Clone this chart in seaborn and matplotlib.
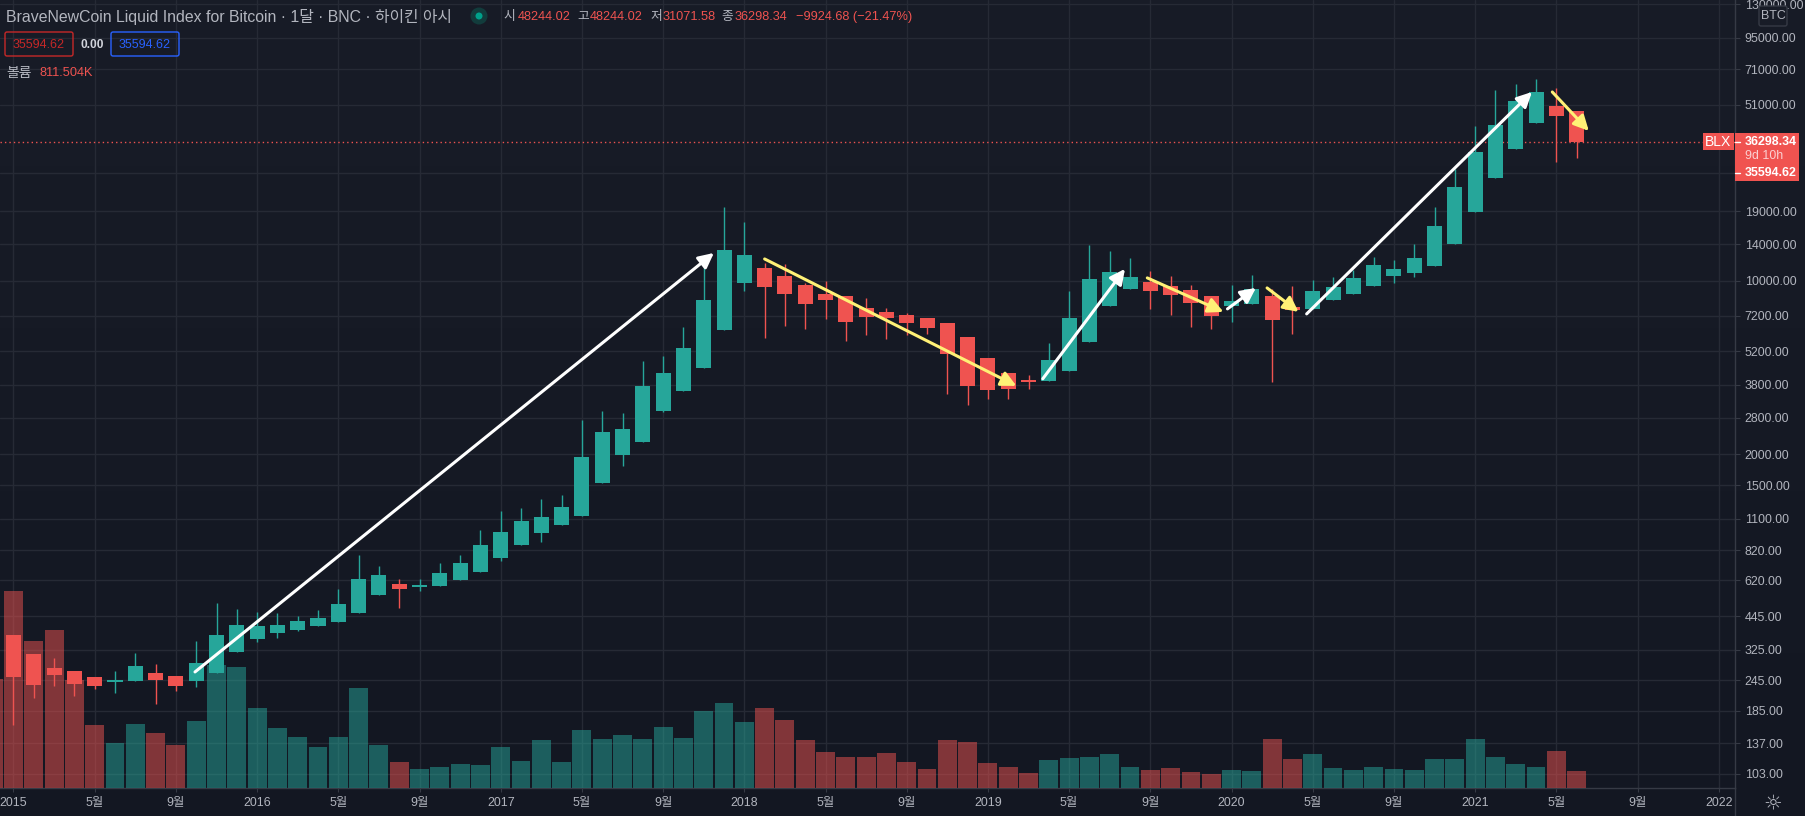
import numpy as np
import pandas as pd
import seaborn as sns
import matplotlib
matplotlib.use("Agg")
import matplotlib.pyplot as plt
from matplotlib.patches import Rectangle, FancyBboxPatch, Circle
from matplotlib.colors import LinearSegmentedColormap

# ---------- data (monthly, index 0 = Jan 2015) ----------
body_tops = [373,313,275,267,253,246,280,263,255,288,
             373,410,406,410,425,437,498,628,652,599,
             594,664,728,861,972,1076,1117,1226,1949,2454,
             2525,3764,4250,5357,8360,13290,12690,11240,10440,9600,
             8835,8673,7760,7480,7275,7075,6750,5931,4883,4250,
             3980,4790,7075,10150,10840,10340,9870,9515,9170,8673,
             8280,9250,8673,7835,9085,9426,10250,11560,11140,12340,
             16610,23840,32980,42400,52900,57500,50500,48244.02]
body_bottoms = [253,235,258,237,233,241,244,246,233,244,
                263,319,360,380,391,406,421,458,541,572,
                583,588,622,670,763,861,963,1037,1127,1531,
                1986,2238,2982,3596,4447,6330,9780,9426,8835,8055,
                8360,6812,7140,7075,6750,6450,5070,3764,3630,3660,
                3906,3943,4330,5664,7905,9250,9085,8750,8130,7210,
                7905,8055,6940,7620,7690,8360,8835,9515,10440,10730,
                11450,14050,18900,25920,33910,43180,46060,36298.34]
highs = [373,313,302,267,253,267,316,285,255,354,
         503,476,462,458,445,471,572,785,708,628,
         628,728,785,990,1181,1214,1320,1370,2745,2982,
         2927,4745,4975,6503,11450,19800,17240,11770,11670,9780,
         9970,8673,8514,7760,7410,7075,6750,5931,4883,4250,
         4172,5612,9085,13870,13170,12340,10940,10440,9600,8673,
         9600,10540,9250,9515,10060,10340,11040,12450,12110,14050,
         19800,28170,41990,58600,61950,64900,59700,48244.02]
lows = [162,208,233,212,226,218,244,197,222,230,
        263,319,350,363,387,406,421,458,541,480,
        562,588,622,670,742,861,885,1037,1127,1531,
        1792,2238,2954,3596,4447,6330,9085,5877,6564,6385,
        7010,5716,6040,5822,6040,6100,3497,3144,3345,3345,
        3660,3943,4330,5664,7905,9250,7690,7275,6500,6385,
        6812,8055,3906,6100,7690,8360,8835,9515,9780,10340,
        11450,14050,18900,25920,33910,43180,30070,31071.58]
candle_dir = (["down"]*5 + ["up"]*2 + ["down"]*2 + ["up"]*10 + ["down"] + ["up"]*17 + ["down"]*14 +
              ["up"]*5 + ["down"]*4 + ["up"]*2 + ["down"]*2 + ["up"]*12 + ["down"]*2)
# volume in thousands; the first entry is Dec 2014 (month -1)
volumes = [5204,
           9405,7018,7543,5156,3008,2148,3055,2626,2053,3199,
           5872,5777,3819,2864,2435,1957,2435,4774,2053,1241,
           907,1003,1146,1098,1957,1289,2292,1241,2769,2339,
           2530,2339,2912,2387,3676,4058,3151,3819,3246,2292,
           1719,1480,1480,1671,1241,907,2292,2196,1194,1003,
           716,1337,1432,1480,1623,1003,859,955,764,668,
           859,812,2339,1384,1623,955,859,1003,907,859,
           1384,1384,2339,1480,1146,1003,1766,811.504]
volume_dir = ["down"] + candle_dir
x_ticks = list(range(0, 85, 4))
x_labels = ["2015","5월","9월","2016","5월","9월","2017","5월","9월","2018","5월","9월","2019","5월","9월",
            "2020","5월","9월","2021","5월","9월","2022"]
price_ticks = [130000,95000,71000,51000,27000,19000,14000,10000,7200,5200,3800,2800,2000,1500,1100,820,620,445,325,245,185,137,103]
white_arrows = [((8.94,265),(34.5,12920)),((50.7,4020),(54.75,11140)),((59.8,7690),(61.2,9340)),((63.7,7340),(74.8,57520))]
yellow_arrows = [((37.0,12220),(49.4,3764)),((55.85,10250),(59.6,7480)),((61.75,9340),(63.3,7480)),((75.8,57520),(77.6,40070))]
last_close = 36298.34

# ---------- styling ----------
UP, DOWN = "#26a69a", "#ef5350"
GRID, AXIS, TXT = "#262a35", "#363a45", "#b2b5be"
sns.set_theme(style="dark")
FONT = ["Liberation Sans", "Noto Sans CJK KR", "DejaVu Sans"]
plt.rcParams["font.family"] = FONT

W, H = 1806, 816
fig = plt.figure(figsize=(W/100, H/100), dpi=100, facecolor="#131722")

bg = fig.add_axes([0, 0, 1, 1], zorder=-5)
bg.axis("off")
cmap = LinearSegmentedColormap.from_list("bg", ["#181c27", "#131722"])
bg.imshow(np.linspace(0, 1, 256).reshape(-1, 1), aspect="auto", cmap=cmap)

rect = [0, (H-788)/H, 1735/W, 788/H]
base = fig.add_axes(rect, zorder=0)      # scales, ticks and grid
base.patch.set_visible(False)
vol = fig.add_axes(rect, zorder=1)       # volume overlay
vol.patch.set_visible(False)
ax = fig.add_axes(rect, zorder=2, sharex=base, sharey=base)  # candles
ax.patch.set_visible(False)

candles = pd.DataFrame({"month": np.arange(len(body_tops)), "top": body_tops, "bot": body_bottoms,
                        "high": highs, "low": lows, "dir": candle_dir})
candles["color"] = candles["dir"].map({"up": UP, "down": DOWN})

voldf = pd.DataFrame({"month": np.arange(-1, len(volumes)-1), "volume": volumes, "dir": volume_dir})
sns.barplot(data=voldf, x="month", y="volume", hue="dir", palette={"up": UP, "down": DOWN}, hue_order=["up", "down"],
            native_scale=True, dodge=False, width=0.93, alpha=0.5, saturation=1, linewidth=0,
            errorbar=None, legend=False, ax=vol)
vol.set_ylim(0, 37619)
vol.set_xlim(-0.665, 84.8)
vol.axis("off")

# candles
ax.vlines(candles["month"], candles["low"], candles["high"], colors=candles["color"], linewidth=1.0, zorder=3)
ax.bar(candles["month"], candles["top"]-candles["bot"], bottom=candles["bot"], width=0.74,
       color=candles["color"], linewidth=0, zorder=4)

base.set_yscale("log")
base.set_ylim(90.3, 135000)
base.set_xlim(-0.665, 84.8)
base.set_axisbelow(True)
base.yaxis.tick_right()
base.set_yticks(price_ticks)
base.set_yticklabels([f"{p:.2f}" for p in price_ticks])
base.set_xticks(x_ticks)
base.set_xticklabels(x_labels)
base.minorticks_off()
base.grid(True, axis="both", color=GRID, linewidth=1)
base.tick_params(axis="y", length=3.6, width=0.8, color=AXIS, labelcolor=TXT, labelsize=8.9, pad=3.4, right=True, left=False)
base.tick_params(axis="x", length=3, width=0.8, color=AXIS, labelcolor=TXT, labelsize=8.9, pad=3.6, bottom=True)
for name, sp in base.spines.items():
    sp.set_visible(name in ("right", "bottom"))
    sp.set_color(AXIS); sp.set_linewidth(1)
ax.axis("off")

ax.axhline(last_close, color=DOWN, linewidth=1, linestyle=(0, (1, 2.2)), zorder=2)

for group, col in ((white_arrows, "#ffffff"), (yellow_arrows, "#fff176")):
    for start, end in group:
        ax.annotate("", xy=end, xytext=start, zorder=6,
                    arrowprops=dict(arrowstyle="-|>,head_length=0.6,head_width=0.3", color=col, lw=2.2,
                                    shrinkA=0, shrinkB=0, mutation_scale=15))

# ---------- chrome in pixel coordinates ----------
ov = fig.add_axes([0, 0, 1, 1], zorder=10)
ov.set_xlim(0, W); ov.set_ylim(H, 0); ov.axis("off")
def T(x, y, s, color=TXT, size=8.9, ha="left", **kw):
    ov.text(x, y, s, color=color, fontsize=size, ha=ha, va="center", family=FONT, **kw)

T(6, 17, "BraveNewCoin Liquid Index for Bitcoin · 1달 · BNC · 하이킨 아시", size=11.4)
ov.add_patch(Circle((479, 16), 8.5, color="#123c3c", lw=0))
ov.add_patch(Circle((479, 16), 3.5, color="#00a08a", lw=0))
for x, s, c in [(503,"시",TXT),(518,"48244.02",DOWN),(577,"고",TXT),(590,"48244.02",DOWN),(650,"저",TXT),
                (663,"31071.58",DOWN),(721,"종",TXT),(735,"36298.34",DOWN),(796,"−9924.68 (−21.47%)",DOWN)]:
    T(x, 17, s, c, size=9.2)
for x0, x1, c in [(5, 73, "#c62828"), (111, 179, "#2962ff")]:
    ov.add_patch(FancyBboxPatch((x0+2, 34), x1-x0-4, 20, boxstyle="round,pad=2", fc="none", ec=c, lw=1))
    T((x0+x1)/2, 44.5, "35594.62", c, size=9.0, ha="center")
T(92, 44.5, "0.00", "#d1d4dc", size=8.6, ha="center", fontweight="bold")
T(6, 73, "볼륨", size=10)
T(40, 73, "811.504K", DOWN, size=9.2)

# BTC box
ov.add_patch(FancyBboxPatch((1761, 8), 24, 16, boxstyle="round,pad=2", fc="#181c27", ec=AXIS, lw=1))
T(1773, 16, "BTC", size=8.9, ha="center")
# price tags
ov.add_patch(Rectangle((1703, 133), 31, 17, fc="#f05350", lw=0))
T(1718.5, 141.5, "BLX", "#ffffff", size=10, ha="center")
ov.add_patch(Rectangle((1735, 133), 64.5, 48, fc="#f05350", lw=0))
ov.plot([1735, 1740], [141.5, 141.5], color="#ffffff", lw=1)
ov.plot([1735, 1740], [172.5, 172.5], color="#ffffff", lw=1)
T(1745, 142, "36298.34", "#ffffff", size=8.9, fontweight="bold")
T(1745, 156, "9d 10h", "#fbd0d0", size=8.9)
T(1745, 172.5, "35594.62", "#ffffff", size=8.9, fontweight="bold")
# axis extension and settings icon
ov.plot([1735, 1735], [788, 816], color=AXIS, lw=1)
ov.text(1773, 803, "☼", color=TXT, fontsize=15, ha="center", va="center", family="DejaVu Sans")

fig.savefig("out.png", dpi=100, facecolor=fig.get_facecolor())
